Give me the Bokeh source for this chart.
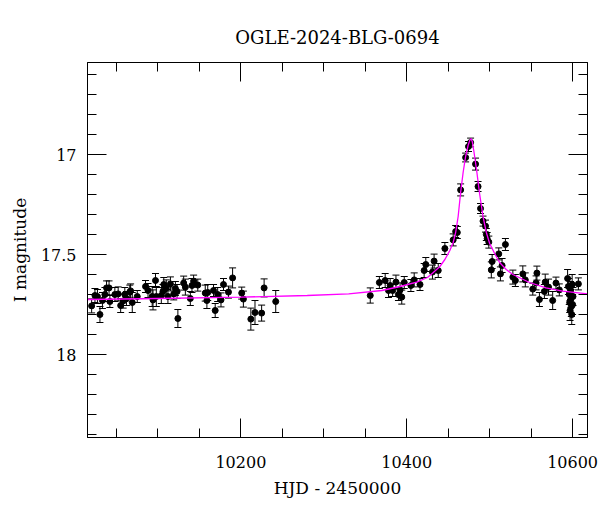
from bokeh.plotting import figure
from bokeh.models import (ColumnDataSource, Whisker, TeeHead, Range1d, FixedTicker,
                          LinearAxis, CustomJSTickFormatter)
from bokeh.embed import file_html
from bokeh.resources import INLINE

title_text = "OGLE-2024-BLG-0694"
x_label = "HJD - 2450000"
y_label = "I magnitude"

# photometry (HJD - 2450000, I mag, error)
hjd = [10020, 10024, 10027, 10030, 10033, 10036, 10038, 10041, 10042, 10048,
       10052, 10055, 10058, 10060, 10062, 10066, 10067, 10069, 10075, 10085,
       10088, 10093, 10094, 10097, 10098, 10104, 10106, 10107, 10110, 10112,
       10115, 10119, 10121, 10123, 10124, 10131, 10133, 10139, 10141, 10143,
       10148, 10157, 10159, 10160, 10167, 10169, 10172, 10176, 10179, 10185,
       10190, 10201, 10203, 10212, 10217, 10225, 10228, 10242,
       10356, 10367, 10374, 10378, 10380, 10383, 10387, 10390, 10392, 10394,
       10397, 10405, 10409, 10416, 10421, 10423, 10431, 10433, 10438, 10446,
       10456, 10459, 10461, 10465, 10471, 10474.5, 10477, 10483, 10486, 10489,
       10492, 10495, 10496, 10497, 10499, 10502, 10503, 10511, 10513, 10515,
       10519, 10528, 10531, 10540, 10543, 10552, 10556, 10557, 10560, 10566,
       10567, 10571, 10576, 10580, 10584, 10594, 10595, 10596, 10596.5, 10597,
       10597.5, 10598, 10598.5, 10599, 10599.5, 10600, 10600.5, 10607]
mag = [17.757, 17.705, 17.71, 17.80, 17.73, 17.70, 17.667, 17.667, 17.735, 17.70,
       17.697, 17.755, 17.733, 17.70, 17.72, 17.688, 17.682, 17.74, 17.71, 17.66,
       17.68, 17.71, 17.727, 17.63, 17.71, 17.705, 17.685, 17.65, 17.667, 17.71,
       17.647, 17.697, 17.67, 17.685, 17.82, 17.643, 17.663, 17.72, 17.655, 17.633,
       17.653, 17.693, 17.73, 17.69, 17.68, 17.78, 17.70, 17.727, 17.65, 17.688,
       17.617, 17.693, 17.723, 17.823, 17.79, 17.793, 17.667, 17.735,
       17.705, 17.64, 17.63, 17.68, 17.655, 17.68, 17.638, 17.70, 17.677, 17.713,
       17.64, 17.655, 17.627, 17.65, 17.58, 17.55, 17.588, 17.533, 17.58, 17.47,
       17.427, 17.385, 17.39, 17.177, 17.015, 16.96, 16.94, 17.048, 17.16, 17.27,
       17.333, 17.358, 17.40, 17.42, 17.438, 17.577, 17.535, 17.497, 17.597, 17.555,
       17.45, 17.613, 17.63, 17.597, 17.627, 17.673, 17.642, 17.593, 17.725, 17.685,
       17.638, 17.663, 17.73, 17.643, 17.677, 17.62, 17.66, 17.70, 17.74, 17.78,
       17.68, 17.72, 17.76, 17.80, 17.65, 17.75, 17.71, 17.647]
err = [0.035, 0.035, 0.035, 0.04, 0.04, 0.035, 0.035, 0.035, 0.03, 0.035,
       0.035, 0.035, 0.035, 0.035, 0.035, 0.035, 0.035, 0.05, 0.03, 0.03,
       0.035, 0.05, 0.05, 0.035, 0.05, 0.04, 0.035, 0.035, 0.04, 0.035,
       0.035, 0.03, 0.035, 0.035, 0.045, 0.035, 0.04, 0.035, 0.035, 0.03,
       0.03, 0.04, 0.04, 0.04, 0.03, 0.035, 0.035, 0.035, 0.03, 0.03,
       0.05, 0.03, 0.04, 0.055, 0.06, 0.04, 0.045, 0.055,
       0.038, 0.03, 0.035, 0.035, 0.035, 0.03, 0.035, 0.03, 0.035, 0.035,
       0.03, 0.03, 0.035, 0.03, 0.035, 0.035, 0.035, 0.035, 0.035, 0.03,
       0.03, 0.03, 0.03, 0.03, 0.022, 0.025, 0.022, 0.03, 0.025, 0.025,
       0.025, 0.03, 0.03, 0.03, 0.03, 0.04, 0.035, 0.03, 0.035, 0.035,
       0.03, 0.035, 0.03, 0.04, 0.035, 0.03, 0.035, 0.035, 0.035, 0.035,
       0.04, 0.04, 0.045, 0.03, 0.03, 0.045, 0.04, 0.05, 0.05, 0.05,
       0.045, 0.045, 0.05, 0.05, 0.05, 0.05, 0.045, 0.03]

# model light curve
model_hjd = [10015, 10100, 10200, 10280, 10330, 10370, 10392, 10412, 10425, 10432,
             10440, 10446, 10452, 10456, 10459, 10462, 10465, 10468, 10471, 10474,
             10476, 10477.5, 10479, 10481, 10484, 10488, 10492, 10496, 10500, 10506,
             10512, 10520, 10528, 10548, 10568, 10588, 10618]
model_mag = [17.725, 17.72, 17.713, 17.705, 17.697, 17.68, 17.66, 17.638, 17.615, 17.59,
             17.56, 17.525, 17.48, 17.44, 17.39, 17.31, 17.19, 17.09, 17.01, 16.955,
             16.93, 16.92, 16.935, 16.985, 17.07, 17.20, 17.31, 17.39, 17.445, 17.495,
             17.54, 17.575, 17.60, 17.64, 17.667, 17.683, 17.697]

x_major = [10200, 10400, 10600]
x_minor = [10050, 10100, 10150, 10200, 10250, 10300, 10350, 10400, 10450, 10500,
           10550, 10600]
y_major = [17.0, 17.5, 18.0]
y_minor = [16.6, 16.7, 16.8, 16.9, 17.0, 17.1, 17.2, 17.3, 17.4, 17.5, 17.6, 17.7,
           17.8, 17.9, 18.0, 18.1, 18.2, 18.3, 18.4]

FONT = "DejaVu Serif"

p = figure(frame_width=500, frame_height=375,
           x_range=Range1d(10015, 10618), y_range=Range1d(18.415, 16.54),
           output_backend="svg", toolbar_location=None,
           min_border_left=87, min_border_right=13, min_border_top=62,
           min_border_bottom=75, x_axis_label=x_label, y_axis_label=y_label,
           title=title_text)
p.background_fill_color = "white"
p.border_fill_color = "white"
p.grid.visible = False
p.outline_line_color = "black"
p.outline_line_width = 1

p.title.align = "center"
p.title.text_font = FONT
p.title.text_font_size = "18px"
p.title.text_font_style = "normal"
p.title.text_color = "black"
p.title.standoff = 30

xt = FixedTicker(ticks=x_major, minor_ticks=x_minor)
yt = FixedTicker(ticks=y_major, minor_ticks=y_minor)
blank = CustomJSTickFormatter(code="return '';")


def style(ax):
    ax.major_tick_in = 19
    ax.major_tick_out = 0
    ax.minor_tick_in = 9
    ax.minor_tick_out = 0
    ax.axis_line_color = "black"
    ax.major_tick_line_color = "black"
    ax.minor_tick_line_color = "black"
    ax.major_label_text_font = FONT
    ax.major_label_text_font_size = "16px"
    ax.major_label_text_color = "black"
    ax.axis_label_text_font = FONT
    ax.axis_label_text_font_size = "17px"
    ax.axis_label_text_font_style = "normal"
    ax.axis_label_text_color = "black"


xa = p.xaxis[0]
xa.ticker = xt
style(xa)
xa.major_label_standoff = 18
xa.axis_label_standoff = 7

ya = p.yaxis[0]
ya.ticker = yt
ya.formatter = CustomJSTickFormatter(code="return tick.toString();")
style(ya)
ya.major_label_standoff = 11
ya.axis_label_standoff = 8

ra = LinearAxis(ticker=yt, formatter=blank)
style(ra)
ra.major_label_standoff = 0
p.add_layout(ra, "right")

ta = LinearAxis(ticker=xt, formatter=blank)
style(ta)
ta.major_label_standoff = 0
p.add_layout(ta, "above")

src = ColumnDataSource(dict(
    x=hjd, y=mag,
    lo=[m + e for m, e in zip(mag, err)],
    hi=[m - e for m, e in zip(mag, err)],
))

wh = Whisker(source=src, base="x", upper="hi", lower="lo", dimension="height",
             line_color="black", line_width=1,
             upper_head=TeeHead(size=7, line_color="black", line_width=1),
             lower_head=TeeHead(size=7, line_color="black", line_width=1))
p.add_layout(wh)

p.scatter("x", "y", source=src, size=6, color="black")

p.line(model_hjd, model_mag, line_color="#ff00ff", line_width=1.3)

open("out.html", "w").write(file_html(p, INLINE))
